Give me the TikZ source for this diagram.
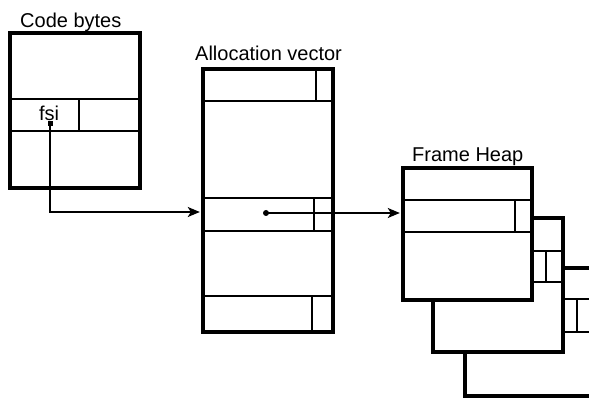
\documentclass[tikz,border=0pt]{standalone}
\usepackage{fontspec}
\setmainfont{Liberation Sans}
\usetikzlibrary{arrows.meta}
\begin{document}
\begin{tikzpicture}[x=1pt,y=-1pt,
  outer/.style={draw,line width=3.4pt,fill=white,rectangle,inner sep=0pt},
  inner/.style={line width=1.8pt},
  lbl/.style={anchor=base west,inner sep=0pt,font=\fontsize{20}{22}\selectfont},
  conn/.style={line width=1.6pt,-{Stealth[length=12pt,width=10pt,inset=3pt]},shorten >=1.5pt},
  dotn/.style={fill,inner sep=0pt,minimum size=5pt}]
\useasboundingbox (0,0) rectangle (589,398);
\clip (0,0) rectangle (589,398);
% Code bytes
\node[lbl] (codelbl) at (20,28) {Code bytes};
\node[outer,minimum width=130pt,minimum height=155pt] (code) at (75,110.5) {};
\draw[inner] (10,99) -- (140,99) (10,131) -- (140,131) (79,99) -- (79,131);
\node[anchor=base,inner sep=0pt,font=\fontsize{20}{22}\selectfont] (fsi) at (49,121) {fsi};
\node[dotn,rectangle] (fsidot) at (50,124) {};
% Allocation vector
\node[lbl] (alloclbl) at (195,61) {Allocation vector};
\node[outer,minimum width=130pt,minimum height=263pt] (alloc) at (268,200.5) {};
\draw[inner] (203,101) -- (333,101) (203,198) -- (333,198) (203,231) -- (333,231) (203,296) -- (333,296);
\draw[inner] (316,69) -- (316,101) (314,198) -- (314,231) (312,296) -- (312,332);
\node[dotn,circle,minimum size=6pt] (avdot) at (266,213) {};
% Frame heap
\node[lbl] (framelbl) at (412,162) {Frame Heap};
\node[outer,minimum width=140pt,minimum height=128pt] (frame3) at (535,332) {};
\draw[inner] (465,299) -- (600,299) (465,332) -- (600,332) (577,299) -- (577,332);
\node[outer,minimum width=130pt,minimum height=134pt] (frame2) at (498,285) {};
\draw[inner] (433,251) -- (563,251) (433,282) -- (563,282) (546,251) -- (546,282);
\node[outer,minimum width=129pt,minimum height=132pt] (frame1) at (467.5,234) {};
\draw[inner] (403,200) -- (532,200) (403,232) -- (532,232) (515,200) -- (515,232);
% connectors
\draw[conn] (fsidot.center) |- (alloc.west |- 0,212);
\draw[conn] (avdot.center) -- (frame1.west |- avdot);
\end{tikzpicture}
\end{document}
